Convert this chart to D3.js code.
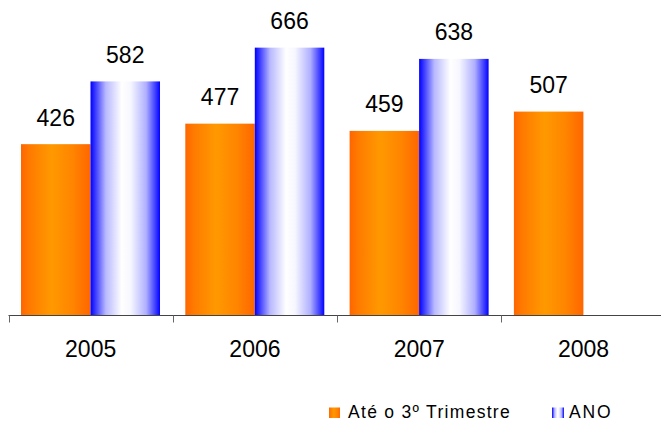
<!DOCTYPE html>
<html>
<head>
<meta charset="utf-8">
<script src="https://cdn.jsdelivr.net/npm/d3@7"></script>
<style>
  html, body { margin: 0; padding: 0; background: #fff; }
  svg { display: block; font-family: "Liberation Sans", Arial, sans-serif; }
</style>
</head>
<body>
<svg id="chart" width="661" height="421"></svg>
<script>
// Categories and series values
const years = ["2005", "2006", "2007", "2008"];
const seriesNames = ["Até o 3º Trimestre", "ANO"];
const ytdValues = [426, 477, 459, 507];
const annualValues = [582, 666, 638, null];

const svg = d3.select("#chart");
const W = 661, H = 421;
const baseY = 315.5;

// Gradients for the two series (horizontal, cylinder-like shading)
const defs = svg.append("defs");
const orangeGrad = defs.append("linearGradient").attr("id", "gOrange")
  .attr("x1", "0%").attr("x2", "100%").attr("y1", "0%").attr("y2", "0%");
[["0%", "#ff6600"], ["12%", "#ff7a00"], ["44%", "#ff9900"], ["75%", "#ff8400"], ["100%", "#ff6600"]]
  .forEach(([o, c]) => orangeGrad.append("stop").attr("offset", o).attr("stop-color", c));
const blueGrad = defs.append("linearGradient").attr("id", "gBlue")
  .attr("x1", "0%").attr("x2", "100%").attr("y1", "0%").attr("y2", "0%");
[["0%", "#0000ff"], ["7%", "#3a3aff"], ["22%", "#b8b8ff"], ["45%", "#ffffff"], ["58%", "#f6f6ff"],
 ["80%", "#b0b0ff"], ["94%", "#3838ff"], ["100%", "#0000ff"]]
  .forEach(([o, c]) => blueGrad.append("stop").attr("offset", o).attr("stop-color", c));
const fills = ["url(#gOrange)", "url(#gBlue)"];

// Scales
const x = d3.scaleBand().domain(years).range([8.5, 8.5 + 4 * 164.3]).padding(0);
const xs = d3.scaleBand().domain(seriesNames).range([12.5, 151.5]).padding(0);
const y = d3.scaleLinear().domain([0, 700]).range([baseY, baseY - 700 * 0.4022]);

const rows = years.map((yr, i) => ({
  year: yr,
  vals: [ytdValues[i], annualValues[i]]
}));

const groups = svg.append("g").selectAll("g").data(rows).join("g")
  .attr("transform", d => `translate(${x(d.year)},0)`);

const cells = groups.selectAll("g.cell")
  .data(d => d.vals.map((v, k) => ({ name: seriesNames[k], v, k })).filter(e => e.v != null))
  .join("g").attr("class", "cell");

cells.append("rect")
  .attr("x", d => xs(d.name))
  .attr("width", xs.bandwidth())
  .attr("y", d => y(d.v))
  .attr("height", d => y(0) - y(d.v))
  .attr("fill", d => fills[d.k]);

cells.append("text")
  .attr("x", d => xs(d.name) + xs.bandwidth() / 2)
  .attr("y", d => y(d.v) - 18.5)
  .attr("text-anchor", "middle")
  .attr("font-size", 23)
  .attr("fill", "#000")
  .text(d => d.v);

// Category axis: baseline, boundary ticks and year labels
const axis = svg.append("g").attr("transform", `translate(0,${baseY})`);
axis.call(d3.axisBottom(x).tickSize(0).tickPadding(0))
  .call(g => g.select(".domain").remove())
  .call(g => g.selectAll(".tick text")
    .attr("y", 41.5).attr("dy", null)
    .attr("font-size", 23)
    .attr("font-family", "'Liberation Sans', Arial, sans-serif")
    .attr("fill", "#000"));
axis.append("line")
  .attr("x1", x.range()[0]).attr("x2", W)
  .attr("y1", 0).attr("y2", 0)
  .attr("stroke", "#444").attr("stroke-width", 1);
axis.selectAll("line.bound")
  .data(years.map(yr => x(yr)))
  .join("line").attr("class", "bound")
  .attr("x1", d => Math.round(d) + 0.5).attr("x2", d => Math.round(d) + 0.5)
  .attr("y1", 0).attr("y2", 7)
  .attr("stroke", "#666").attr("stroke-width", 1);

// Legend
const legendPos = [{ sx: 329, tx: 348 }, { sx: 552, tx: 569 }];
const legend = svg.append("g").selectAll("g").data(seriesNames).join("g");
legend.append("rect")
  .attr("x", (d, i) => legendPos[i].sx)
  .attr("y", 407.5)
  .attr("width", (d, i) => i === 0 ? 11 : 12)
  .attr("height", 10.5)
  .attr("fill", (d, i) => fills[i]);
legend.append("text")
  .attr("x", (d, i) => legendPos[i].tx)
  .attr("y", 417.5)
  .attr("font-size", 17.5)
  .attr("letter-spacing", (d, i) => i === 0 ? 1.3 : 1.8)
  .attr("fill", "#000")
  .text(d => d);
</script>
</body>
</html>
